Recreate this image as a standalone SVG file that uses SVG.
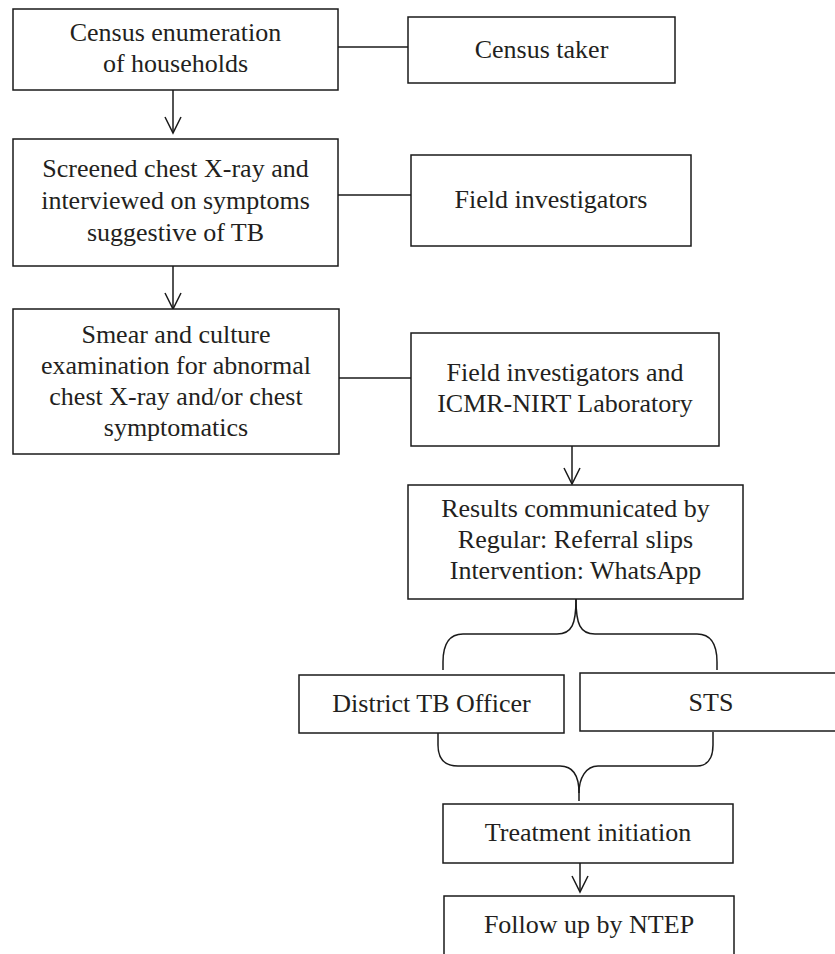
<svg xmlns="http://www.w3.org/2000/svg" width="835" height="954" viewBox="0 0 835 954">
<style>
  .box{fill:#ffffff;stroke:#1a1a1a;stroke-width:1.5}
  .t{font-family:"Liberation Serif","Times New Roman",serif;font-size:26px;fill:#231f20;text-anchor:middle}
  .ln{fill:none;stroke:#1a1a1a;stroke-width:1.5}
</style>
<defs>
  <marker id="arr" viewBox="0 0 20 18" markerWidth="20" markerHeight="18" refX="18" refY="9" orient="auto" markerUnits="userSpaceOnUse">
    <path d="M2,1 L18,9 L2,17" fill="none" stroke="#1a1a1a" stroke-width="1.5"/>
  </marker>
</defs>
<rect width="835" height="954" fill="#ffffff"/>
<g id="connectors">
  <line class="ln" x1="338" y1="47" x2="408" y2="47"/>
  <line class="ln" x1="338" y1="195" x2="411" y2="195"/>
  <line class="ln" x1="339" y1="378" x2="411" y2="378"/>
  <line class="ln" x1="173" y1="90" x2="173" y2="133" marker-end="url(#arr)"/>
  <line class="ln" x1="173" y1="266" x2="173" y2="309" marker-end="url(#arr)"/>
  <line class="ln" x1="572" y1="446" x2="572" y2="484" marker-end="url(#arr)"/>
  <line class="ln" x1="580" y1="863" x2="580" y2="892" marker-end="url(#arr)"/>
  <path class="ln" d="M576,599 C576,624 572,634 557,634 L463,634 C449,634 443,645 443,662 L443,670"/>
  <path class="ln" d="M576,599 C576,624 580,634 595,634 L697,634 C711,634 717,645 717,662 L717,670"/>
  <path class="ln" d="M438,733 L438,745 C438,760 446,766 458,766 L560,766 C574,766 579,778 579,793 L579,801"/>
  <path class="ln" d="M713,732 L713,745 C713,760 706,766 697,766 L598,766 C586,766 579,778 579,793"/>
</g>
<g id="census">
  <rect class="box" x="13" y="9" width="325" height="81"/>
  <text class="t" x="175.5" y="41">Census enumeration</text>
  <text class="t" x="175.5" y="72">of households</text>
</g>
<g id="census-taker">
  <rect class="box" x="408" y="17" width="267" height="66"/>
  <text class="t" x="541.5" y="58">Census taker</text>
</g>
<g id="screened">
  <rect class="box" x="13" y="139" width="325" height="127"/>
  <text class="t" x="175.5" y="177">Screened chest X-ray and</text>
  <text class="t" x="175.5" y="209">interviewed on symptoms</text>
  <text class="t" x="175.5" y="240.5">suggestive of TB</text>
</g>
<g id="field-investigators">
  <rect class="box" x="411" y="155" width="280" height="91"/>
  <text class="t" x="551" y="208">Field investigators</text>
</g>
<g id="smear">
  <rect class="box" x="13" y="309" width="326" height="145"/>
  <text class="t" x="176" y="342.5">Smear and culture</text>
  <text class="t" x="176" y="374">examination for abnormal</text>
  <text class="t" x="176" y="405">chest X-ray and/or chest</text>
  <text class="t" x="176" y="435.5">symptomatics</text>
</g>
<g id="field-lab">
  <rect class="box" x="411" y="333" width="308" height="113"/>
  <text class="t" x="565" y="381">Field investigators and</text>
  <text class="t" x="565" y="411.5">ICMR-NIRT Laboratory</text>
</g>
<g id="results">
  <rect class="box" x="408" y="485" width="335" height="114"/>
  <text class="t" x="575.5" y="517">Results communicated by</text>
  <text class="t" x="575.5" y="548">Regular: Referral slips</text>
  <text class="t" x="575.5" y="579">Intervention: WhatsApp</text>
</g>
<g id="dto">
  <rect class="box" x="299" y="675" width="265" height="58"/>
  <text class="t" x="431.5" y="711.5">District TB Officer</text>
</g>
<g id="sts">
  <rect class="box" x="580" y="673" width="262" height="58"/>
  <text class="t" x="711" y="710.5">STS</text>
</g>
<g id="treatment">
  <rect class="box" x="443" y="804" width="290" height="59"/>
  <text class="t" x="588" y="840.5">Treatment initiation</text>
</g>
<g id="followup">
  <rect class="box" x="444" y="896" width="290" height="70"/>
  <text class="t" x="589" y="933">Follow up by NTEP</text>
</g>
</svg>
